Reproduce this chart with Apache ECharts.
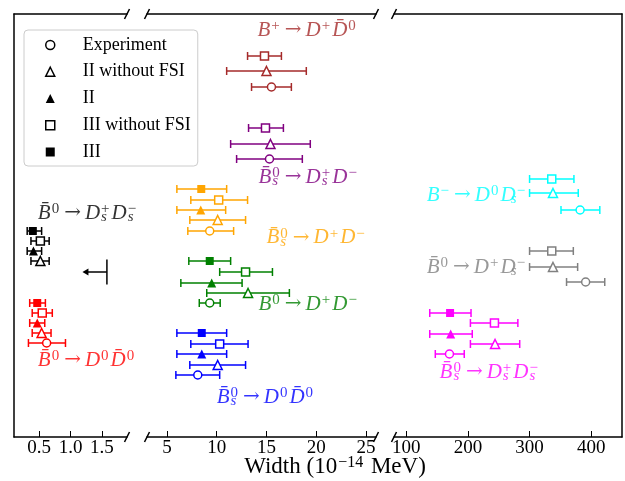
<!DOCTYPE html>
<html>
<head>
<meta charset="utf-8">
<script src="https://cdn.jsdelivr.net/npm/echarts@6/dist/echarts.min.js"></script>
<style>
  html, body { margin: 0; padding: 0; background: #fff; }
  #chart { width: 625px; height: 481px; }
</style>
</head>
<body>
<div id="chart"></div>
<script>
// kind index: 0 Experiment, 1 II without FSI, 2 II, 3 III without FSI, 4 III
const kindNames = ['Experiment', 'II without FSI', 'II', 'III without FSI', 'III'];

// axis ranges and ticks of the three broken-axis panels
const leftRange = [0.1, 1.9];
const midRange = [3, 26];
const rightRange = [80, 450];
const leftTicks = [0.5, 1.0, 1.5];
const midTicks = [5, 10, 15, 20, 25];
const rightTicks = [100, 200, 300, 400];
const rowRange = [0, 42.3];

// widths per process (value, low, high), row = vertical slot
const bDsDs = { kind: [4, 3, 2, 1], val: [0.40, 0.52, 0.41, 0.52], lo: [0.31, 0.37, 0.31, 0.37], hi: [0.54, 0.66, 0.54, 0.66], row: [21.7, 22.7, 23.7, 24.7] };
const bDsDsLimit = [1.58, 25.8, 1.19]; // upper limit, row, arrow end
const bD0D0 = { kind: [4, 3, 2, 1, 0], val: [0.47, 0.55, 0.47, 0.54, 0.62], lo: [0.35, 0.39, 0.35, 0.39, 0.33], hi: [0.60, 0.71, 0.59, 0.69, 0.92], row: [28.9, 29.9, 30.9, 31.9, 32.9] };

const bpDpD0 = { kind: [3, 1, 0], val: [14.8, 15.0, 15.5], lo: [13.1, 11.0, 13.5], hi: [16.5, 19.0, 17.5], row: [4.2, 5.7, 7.3] };
const bsDsD = { kind: [3, 1, 0], val: [14.9, 15.4, 15.3], lo: [13.2, 11.4, 12.0], hi: [16.7, 19.4, 18.6], row: [11.4, 13.0, 14.5] };
const bsDD = { kind: [4, 3, 2, 1, 0], val: [8.45, 10.2, 8.4, 10.1, 9.3], lo: [6.0, 7.4, 6.0, 7.3, 7.1], hi: [11.0, 13.1, 10.9, 12.9, 11.7], row: [17.5, 18.6, 19.6, 20.6, 21.7] };
const b0DD = { kind: [4, 3, 2, 1, 0], val: [9.3, 12.9, 9.5, 13.15, 9.3], lo: [7.2, 10.3, 6.4, 9.0, 8.25], hi: [11.4, 15.6, 12.55, 17.3, 10.35], row: [24.7, 25.8, 26.9, 27.9, 28.9] };
const bsD0D0 = { kind: [4, 3, 2, 1, 0], val: [8.5, 10.3, 8.5, 10.1, 8.1], lo: [6.0, 7.4, 6.0, 7.3, 5.9], hi: [11.0, 13.15, 11.0, 12.9, 10.3], row: [31.9, 33.0, 34.0, 35.1, 36.1] };

const bmD0Ds = { kind: [3, 1, 0], val: [336, 338, 382], lo: [300, 300, 351], hi: [372, 379, 414], row: [16.5, 17.9, 19.6] };
const b0DpDs = { kind: [3, 1, 0], val: [336, 338, 391], lo: [300, 300, 360], hi: [371, 378, 422], row: [23.7, 25.3, 26.8] };
const bsDsDs = { kind: [4, 3, 2, 1, 0], val: [171, 243, 172, 244, 170], lo: [138, 204, 138, 204, 147], hi: [205, 281, 207, 284, 194], row: [29.9, 30.9, 32.0, 33.0, 34.0] };

// process label texts (rich text)
const B = '{i|B\u0304}';
const labelTexts = {
  bDsDs: B + '{sup|0}{a|→}{i|D}{subz|s}{sup|+}{i|D}{subz|s}{sup|−}',
  bD0D0: B + '{sup|0}{a|→}{i|D}{sup|0}{i|D\u0304}{sup|0}',
  bpDpD0: '{i|B}{sup|+}{a|→}{i|D}{sup|+}{i|D\u0304}{sup|0}',
  bsDsD: B + '{subz|s}{sup|0}{a|→}{i|D}{subz|s}{sup|+}{i|D}{sup|−}',
  bsDD: B + '{subz|s}{sup|0}{a|→}{i|D}{sup|+}{i|D}{sup|−}',
  b0DD: '{i|B}{sup|0}{a|→}{i|D}{sup|+}{i|D}{sup|−}',
  bsD0D0: B + '{subz|s}{sup|0}{a|→}{i|D}{sup|0}{i|D\u0304}{sup|0}',
  bmD0Ds: '{i|B}{sup|−}{a|→}{i|D}{sup|0}{i|D}{subz|s}{sup|−}',
  b0DpDs: B + '{sup|0}{a|→}{i|D}{sup|+}{i|D}{subz|s}{sup|−}',
  bsDsDs: B + '{subz|s}{sup|0}{a|→}{i|D}{subz|s}{sup|+}{i|D}{subz|s}{sup|−}'
};

const processes = [
  { key: 'bDsDs', d: bDsDs, panel: 0, color: '#000000', label: [0.48, 19.9], align: 'left' },
  { key: 'bD0D0', d: bD0D0, panel: 0, color: '#ff0000', label: [0.48, 34.6], align: 'left' },
  { key: 'bpDpD0', d: bpDpD0, panel: 1, color: '#a52a2a', label: [14.1, 1.6], align: 'left' },
  { key: 'bsDsD', d: bsDsD, panel: 1, color: '#800080', label: [14.2, 16.3], align: 'left' },
  { key: 'bsDD', d: bsDD, panel: 1, color: '#ffa500', label: [15.0, 22.35], align: 'left' },
  { key: 'b0DD', d: b0DD, panel: 1, color: '#008000', label: [14.2, 29.0], align: 'left' },
  { key: 'bsD0D0', d: bsD0D0, panel: 1, color: '#0000ff', label: [10.0, 38.3], align: 'left' },
  { key: 'bmD0Ds', d: bmD0Ds, panel: 2, color: '#00ffff', label: [296, 18.1], align: 'right' },
  { key: 'b0DpDs', d: b0DpDs, panel: 2, color: '#808080', label: [296, 25.3], align: 'right' },
  { key: 'bsDsDs', d: bsDsDs, panel: 2, color: '#ff00ff', label: [154, 35.8], align: 'left' }
];

const SERIF = 'Liberation Serif, Times New Roman, DejaVu Serif, serif';
const TOP = 14, BOTTOM = 44;
const panels = [
  { left: 14, width: 113, range: leftRange, ticks: leftTicks, fmt: (v) => v.toFixed(1) },
  { left: 147, width: 229, range: midRange, ticks: midTicks, fmt: (v) => String(v) },
  { left: 394, width: 228, range: rightRange, ticks: rightTicks, fmt: (v) => String(v) }
];

const markerShape = ['circle', 'triangle', 'triangle', 'rect', 'rect'];
const markerOpen = [true, true, false, true, false];
const markerSize = [8, 9, 9, 8, 8];

const richStyles = {
  i: { fontFamily: SERIF, fontStyle: 'italic', fontSize: 21, lineHeight: 24, verticalAlign: 'middle', padding: [0, 1, 0, 0] },
  a: { fontFamily: 'DejaVu Serif', fontSize: 20, lineHeight: 24, verticalAlign: 'middle', padding: [0, 4, 0, 3] },
  sup: { fontFamily: SERIF, fontSize: 15, lineHeight: 15, verticalAlign: 'top', padding: [1, 2, 0, 0] },
  subz: { fontFamily: SERIF, fontStyle: 'italic', fontSize: 15, lineHeight: 12, verticalAlign: 'bottom', width: 0 }
};

const errStyle = (color) => ({ stroke: color, lineWidth: 1.5 });

function renderErr(color) {
  return function (params, api) {
    const y = api.value(2);
    const a = api.coord([api.value(0), y]);
    const b = api.coord([api.value(1), y]);
    const h = 4;
    return {
      type: 'group',
      children: [
        { type: 'line', shape: { x1: a[0], y1: a[1], x2: b[0], y2: b[1] }, style: errStyle(color) },
        { type: 'line', shape: { x1: a[0], y1: a[1] - h, x2: a[0], y2: a[1] + h }, style: errStyle(color) },
        { type: 'line', shape: { x1: b[0], y1: b[1] - h, x2: b[0], y2: b[1] + h }, style: errStyle(color) }
      ]
    };
  };
}

function renderLimit(params, api) {
  const p = api.coord([api.value(0), api.value(1)]);
  const q = api.coord([api.value(2), api.value(1)]);
  return {
    type: 'group',
    children: [
      { type: 'line', shape: { x1: p[0], y1: p[1] - 12.5, x2: p[0], y2: p[1] + 12.5 }, style: errStyle('#000') },
      { type: 'line', shape: { x1: p[0], y1: p[1], x2: q[0] + 5, y2: q[1] }, style: errStyle('#000') },
      { type: 'polygon', shape: { points: [[q[0], q[1]], [q[0] + 6, q[1] - 3.5], [q[0] + 6, q[1] + 3.5]] }, style: { fill: '#000' } }
    ]
  };
}

const grid = panels.map((p) => ({ left: p.left, width: p.width, top: TOP, bottom: BOTTOM }));

const xAxis = [];
panels.forEach((p, i) => {
  xAxis.push({
    type: 'value', gridIndex: i, position: 'bottom', min: p.range[0], max: p.range[1],
    axisLine: { show: true, onZero: false, lineStyle: { color: '#000', width: 1.5 } },
    axisTick: { show: true, inside: true, length: 6, customValues: p.ticks, lineStyle: { color: '#000', width: 1 } },
    axisLabel: { show: true, customValues: p.ticks, formatter: p.fmt, color: '#000', fontFamily: SERIF, fontSize: 19, margin: 2 },
    splitLine: { show: false }
  });
});
panels.forEach((p, i) => {
  xAxis.push({
    type: 'value', gridIndex: i, position: 'top', min: p.range[0], max: p.range[1],
    axisLine: { show: true, onZero: false, lineStyle: { color: '#000', width: 1.5 } },
    axisTick: { show: false }, axisLabel: { show: false }, splitLine: { show: false }
  });
});

const yAxis = panels.map((p, i) => ({
  type: 'value', gridIndex: i, min: rowRange[0], max: rowRange[1], inverse: true,
  position: i === 2 ? 'right' : 'left',
  axisLine: { show: i !== 1, onZero: false, lineStyle: { color: '#000', width: 1.5 } },
  axisTick: { show: false }, axisLabel: { show: false }, splitLine: { show: false }
}));

const series = [];
processes.forEach((pr) => {
  const d = pr.d;
  series.push({
    type: 'custom', xAxisIndex: pr.panel, yAxisIndex: pr.panel,
    renderItem: renderErr(pr.color), encode: { x: [0, 1], y: 2 }, silent: true, z: 2,
    data: d.val.map((v, j) => [d.lo[j], d.hi[j], d.row[j]])
  });
  d.kind.forEach((k, j) => {
    series.push({
      type: 'scatter', name: kindNames[k], xAxisIndex: pr.panel, yAxisIndex: pr.panel,
      symbol: markerShape[k], symbolSize: markerSize[k], z: 3, silent: true,
      itemStyle: markerOpen[k]
        ? { color: '#fff', borderColor: pr.color, borderWidth: 1.5, opacity: 1 }
        : { color: pr.color, opacity: 1 },
      data: [[d.val[j], d.row[j]]]
    });
  });
  series.push({
    type: 'scatter', xAxisIndex: pr.panel, yAxisIndex: pr.panel, symbolSize: 0, silent: true, z: 4,
    data: [pr.label],
    label: {
      show: true, position: [0, 0], align: pr.align, verticalAlign: 'middle',
      color: pr.color, formatter: labelTexts[pr.key], rich: richStyles
    }
  });
});
series.push({
  type: 'custom', xAxisIndex: 0, yAxisIndex: 0, renderItem: renderLimit,
  encode: { x: [0, 2], y: 1 }, silent: true, z: 2, data: [bDsDsLimit]
});

// diagonal break marks at panel edges
const breakX = [panels[0].left + panels[0].width, panels[1].left, panels[1].left + panels[1].width, panels[2].left];
const breakY = [TOP, 481 - BOTTOM];
const graphic = [];
breakX.forEach((x) => breakY.forEach((y) => {
  graphic.push({ type: 'line', shape: { x1: x - 2.5, y1: y + 5, x2: x + 2.5, y2: y - 5 }, style: { stroke: '#000', lineWidth: 1.5 }, z: 10 });
}));
graphic.push({
  type: 'text', x: 335, y: 467, z: 10,
  style: {
    text: '{n|Width (10}{sup|−14}{n| MeV)}',
    align: 'center', verticalAlign: 'middle',
    rich: {
      n: { fontFamily: SERIF, fontSize: 23, lineHeight: 25, verticalAlign: 'middle', fill: '#000' },
      sup: { fontFamily: SERIF, fontSize: 16, lineHeight: 16, verticalAlign: 'top', fill: '#000', padding: [0, 2, 0, 1] }
    }
  }
});

const legendIcon = (k) => ({
  name: kindNames[k], icon: markerShape[k],
  itemStyle: markerOpen[k]
    ? { color: '#fff', borderColor: '#000', borderWidth: 1.5 }
    : { color: '#000', borderWidth: 0 }
});

const option = {
  animation: false,
  backgroundColor: '#fff',
  grid,
  xAxis,
  yAxis,
  legend: {
    orient: 'vertical', left: 24, top: 30, selectedMode: false,
    data: [0, 1, 2, 3, 4].map(legendIcon),
    itemWidth: 9, itemHeight: 9, itemGap: 8.75,
    padding: [6, 7, 5, 21],
    backgroundColor: '#fff', borderColor: '#cccccc', borderWidth: 1, borderRadius: 4,
    textStyle: { fontFamily: SERIF, fontSize: 18, lineHeight: 18, color: '#000', padding: [0, 0, 0, 23] }
  },
  graphic,
  series
};

const chart = echarts.init(document.getElementById('chart'));
chart.setOption(option);
</script>
</body>
</html>
